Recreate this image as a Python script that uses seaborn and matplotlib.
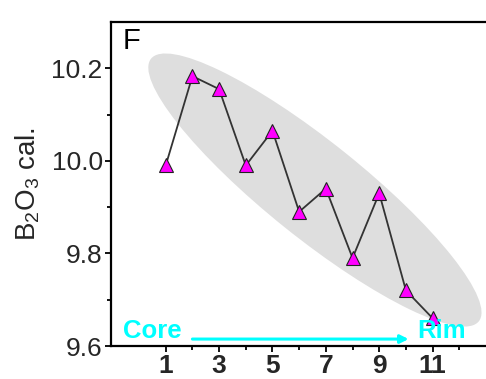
import numpy as np
import pandas as pd
import matplotlib
matplotlib.use("Agg")
import matplotlib.pyplot as plt
import matplotlib.transforms as mtransforms
from matplotlib.patches import Ellipse
from matplotlib.ticker import FixedLocator
import seaborn as sns

# ---- data ----
points = [1, 2, 3, 4, 5, 6, 7, 8, 9, 10, 11]
b2o3 = [9.99, 10.183, 10.155, 9.99, 10.065, 9.89, 9.94, 9.79, 9.93, 9.72, 9.66]
x_major = [1, 3, 5, 7, 9, 11]
x_minor = [2, 4, 6, 8, 10, 12]
y_major = [9.6, 9.8, 10.0, 10.2]
y_minor = [9.7, 9.9, 10.1]
panel_label = "F"
ylabel = "B$_2$O$_3$ cal."

sns.set_style("ticks")
plt.rcParams["font.family"] = ["Liberation Sans", "DejaVu Sans"]
plt.rcParams["mathtext.default"] = "regular"

W, H = 486, 379
fig = plt.figure(figsize=(W / 100, H / 100), dpi=100)
ax = fig.add_axes([111 / W, (H - 346) / H, 1 - 111 / W, (346 - 22) / H])
ax.set_xlim(-1.05, 13.0)
ax.set_ylim(9.6, 10.3)

# gray trend ellipse (drawn in display space so it is a true rotated ellipse)
ell_center_data = (6.59, 9.937)
cx, cy = ax.transData.transform(ell_center_data)
ell = Ellipse((cx, cy), width=420, height=96, angle=-38.7,
              transform=mtransforms.IdentityTransform(),
              facecolor="#dedede", edgecolor="none", zorder=0.5)
ax.add_patch(ell)

df = pd.DataFrame({"pt": points, "val": b2o3})
sns.lineplot(data=df, x="pt", y="val", ax=ax, color="#333333", linewidth=1.3,
             marker="^", markersize=10, markerfacecolor="#ff00ff",
             markeredgecolor="#222222", markeredgewidth=0.8, zorder=3)

for s in ["left", "top", "bottom"]:
    ax.spines[s].set_linewidth(1.6)
    ax.spines[s].set_color("black")
ax.spines["right"].set_visible(False)

ax.xaxis.set_major_locator(FixedLocator(x_major))
ax.xaxis.set_minor_locator(FixedLocator(x_minor))
ax.yaxis.set_major_locator(FixedLocator(y_major))
ax.yaxis.set_minor_locator(FixedLocator(y_minor))
ax.set_xticklabels([str(v) for v in x_major], fontsize=19, fontweight="bold")
ax.set_yticklabels([f"{v:.1f}" for v in y_major], fontsize=19)
ax.tick_params(axis="both", which="major", direction="out", length=4, width=1.3, color="black")
ax.tick_params(axis="both", which="minor", direction="out", length=3, width=1.3, color="black")
ax.tick_params(axis="x", pad=1.5)
ax.tick_params(axis="y", pad=2)

ax.set_xlabel("")
ax.set_ylabel(ylabel, fontsize=20, labelpad=7)

ax.text(0.03, 0.985, panel_label, transform=ax.transAxes, fontsize=21,
        ha="left", va="top", color="black")

# core -> rim annotation
ax.text(-0.6, 9.6 + 0.006, "Core", color="#00ffff", fontsize=18.5, fontweight="bold",
        ha="left", va="bottom")
ax.text(11.35, 9.6 + 0.006, "Rim", color="#00ffff", fontsize=18.5, fontweight="bold",
        ha="center", va="bottom")
ax.annotate("", xy=(10.1, 9.615), xytext=(2.0, 9.615),
            arrowprops=dict(arrowstyle="-|>", color="#00ffff", lw=2.2,
                            mutation_scale=12, shrinkA=0, shrinkB=0))

fig.savefig("out.png", dpi=100, facecolor="white")
